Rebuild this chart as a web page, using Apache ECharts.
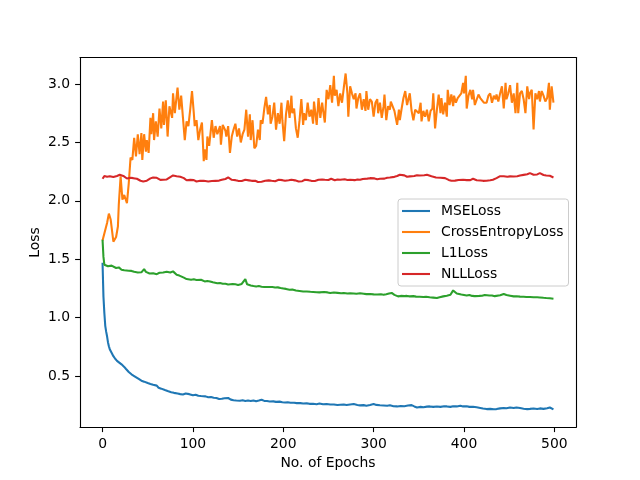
<!DOCTYPE html>
<html><head><meta charset="utf-8">
<script src="https://cdn.jsdelivr.net/npm/echarts@6/dist/echarts.min.js"></script>
<style>html,body{margin:0;padding:0;background:#fff}#c{width:640px;height:480px}</style>
</head><body><div id="c"></div>
<script>
const xTicks = [0, 100, 200, 300, 400, 500];
const yTicks = [0.5, 1.0, 1.5, 2.0, 2.5, 3.0];
const seriesNames = ['MSELoss', 'CrossEntropyLoss', 'L1Loss', 'NLLLoss'];
const seriesColors = ['#1f77b4', '#ff7f0e', '#2ca02c', '#d62728'];

const mseEpochs = [0,1,2,3,4,5,6,7,8,10,12,14,16,18,21,24,26,29,32,35,37,40,43,46,48,50,53,56,58,60,62,65,69,72,76,79,83,86,89,92,94,96,100,103,106,109,111,114,117,120,123,126,129,132,135,137,139,142,145,148,152,155,158,161,164,167,170,173,176,179,182,185,189,192,196,199,202,205,208,212,215,219,222,226,229,233,237,240,244,248,252,256,260,263,267,270,274,278,282,285,289,292,296,300,303,307,311,315,318,322,326,330,334,338,342,345,348,352,355,359,362,366,370,374,378,381,385,388,392,396,399,403,406,410,414,418,421,425,429,433,436,440,444,447,451,455,458,462,466,470,473,477,481,484,488,492,495,497,499];
const mseLoss   = [1.470,1.180,1.040,0.930,0.880,0.840,0.790,0.755,0.730,0.700,0.670,0.648,0.630,0.618,0.600,0.578,0.560,0.535,0.515,0.500,0.492,0.475,0.460,0.452,0.445,0.440,0.432,0.425,0.435,0.418,0.400,0.392,0.380,0.372,0.362,0.356,0.350,0.345,0.342,0.350,0.360,0.345,0.336,0.340,0.331,0.329,0.334,0.326,0.318,0.320,0.314,0.312,0.303,0.305,0.310,0.318,0.312,0.298,0.293,0.291,0.289,0.293,0.286,0.290,0.286,0.291,0.285,0.290,0.297,0.287,0.286,0.282,0.283,0.279,0.281,0.276,0.273,0.275,0.271,0.272,0.268,0.268,0.265,0.266,0.262,0.262,0.259,0.264,0.258,0.260,0.256,0.257,0.252,0.254,0.256,0.252,0.257,0.260,0.252,0.249,0.251,0.246,0.252,0.260,0.253,0.250,0.248,0.246,0.250,0.242,0.240,0.244,0.242,0.247,0.251,0.240,0.231,0.236,0.233,0.238,0.240,0.236,0.239,0.236,0.241,0.240,0.236,0.241,0.240,0.246,0.240,0.242,0.236,0.237,0.232,0.227,0.222,0.217,0.219,0.216,0.217,0.223,0.226,0.224,0.231,0.227,0.231,0.226,0.220,0.217,0.219,0.222,0.218,0.223,0.219,0.224,0.231,0.222,0.215];

const ceEpochs = [0,1,5,7,9,12,15,17,18,20,22,24,27,29,31,33,35,37,39,41,43,44,46,48,49,51,53,54,56,57,59,61,63,65,67,68,70,72,74,77,78,80,83,85,87,89,91,93,95,97,99,101,102,104,106,108,110,112,113,115,116,118,121,123,125,127,130,131,133,136,137,139,141,143,145,147,149,151,153,155,157,159,161,163,164,166,168,170,172,174,175,177,179,181,183,185,186,188,190,192,194,196,198,199,201,203,205,207,209,210,212,214,216,218,220,222,223,225,227,229,231,233,234,237,239,241,243,244,246,248,250,252,254,256,257,259,261,263,265,267,269,271,272,274,276,278,280,281,283,285,287,289,291,292,294,296,298,300,302,304,305,307,309,311,312,314,316,318,319,321,323,326,328,329,331,333,335,337,339,340,342,344,346,348,350,352,353,355,357,359,361,363,365,366,368,370,372,374,375,377,379,381,382,384,386,388,389,391,393,395,397,399,400,402,403,405,407,409,410,412,414,416,418,420,422,423,425,427,429,431,433,435,436,438,440,442,444,446,447,449,451,453,455,457,459,460,462,464,466,468,470,472,473,475,477,479,481,483,484,486,488,490,492,494,495,497,499];
const ceLoss   = [1.66,1.67,1.81,1.89,1.84,1.65,1.69,1.78,1.97,2.21,2.01,2.05,1.98,2.15,2.37,2.35,2.54,2.38,2.57,2.40,2.58,2.35,2.57,2.42,2.52,2.41,2.71,2.57,2.75,2.52,2.68,2.55,2.79,2.62,2.85,2.65,2.86,2.55,2.81,2.71,2.92,2.75,2.97,2.78,2.90,2.71,2.52,2.68,2.64,2.78,2.94,2.75,2.64,2.69,2.52,2.61,2.67,2.34,2.44,2.35,2.55,2.47,2.69,2.54,2.64,2.57,2.64,2.48,2.65,2.60,2.55,2.64,2.41,2.55,2.61,2.66,2.55,2.62,2.50,2.57,2.61,2.78,2.55,2.74,2.52,2.69,2.45,2.47,2.61,2.52,2.69,2.66,2.79,2.89,2.74,2.82,2.66,2.72,2.84,2.61,2.75,2.66,2.84,2.69,2.51,2.74,2.86,2.71,2.90,2.75,2.79,2.62,2.54,2.69,2.87,2.65,2.75,2.69,2.84,2.72,2.78,2.66,2.85,2.65,2.88,2.71,2.84,2.78,2.67,2.95,2.87,2.99,2.84,3.07,2.90,2.95,2.81,2.92,2.84,2.97,3.09,2.92,2.72,2.98,2.92,2.87,2.92,2.79,2.88,2.92,2.78,2.87,2.77,2.94,2.78,2.87,2.85,2.72,2.84,2.87,2.75,2.84,2.71,2.81,2.91,2.69,2.81,2.78,2.85,2.84,2.77,2.65,2.78,2.69,2.79,2.88,2.94,2.82,2.81,2.92,2.77,2.69,2.78,2.79,2.75,2.84,2.68,2.77,2.72,2.78,2.68,2.77,2.79,2.92,2.62,2.78,2.91,2.75,2.88,2.74,2.84,2.72,2.95,2.82,2.91,2.81,2.90,2.84,2.88,2.87,2.92,3.01,2.92,3.07,2.79,2.90,2.95,2.87,2.95,2.82,2.81,2.91,2.88,2.87,2.84,2.85,2.84,2.90,2.92,2.84,2.90,2.87,2.91,2.85,2.92,2.98,2.79,3.01,2.87,2.92,2.99,2.84,2.92,2.75,3.01,2.75,2.92,2.94,2.87,2.75,2.98,2.87,2.92,2.95,2.61,2.92,2.87,2.94,2.85,2.94,2.90,2.85,2.88,3.01,2.78,2.98,2.84];

const l1Epochs = [0,1,2,4,6,8,10,12,15,18,21,24,26,29,32,35,37,39,41,43,46,48,50,52,54,56,58,60,61,63,65,67,69,71,72,75,78,80,82,85,87,90,93,95,98,101,104,106,109,113,116,119,122,124,127,130,133,136,139,141,144,147,150,152,154,156,158,160,161,164,167,170,173,176,179,181,184,188,191,194,197,200,203,207,210,214,218,222,226,230,233,237,240,242,245,247,249,252,256,260,264,267,271,274,278,281,285,289,292,296,300,304,308,311,314,317,320,323,327,330,334,337,340,344,347,351,355,358,362,366,370,373,377,381,385,388,390,392,394,397,399,403,406,409,412,414,417,420,423,425,428,431,434,436,440,444,447,451,455,458,462,466,469,473,477,481,484,488,491,495,499];
const l1Loss   = [1.667,1.520,1.453,1.445,1.440,1.447,1.445,1.436,1.425,1.430,1.410,1.405,1.396,1.402,1.400,1.392,1.396,1.386,1.382,1.388,1.415,1.392,1.382,1.378,1.367,1.380,1.390,1.372,1.367,1.384,1.396,1.386,1.382,1.392,1.390,1.386,1.396,1.381,1.367,1.360,1.353,1.342,1.330,1.334,1.325,1.328,1.322,1.320,1.324,1.310,1.314,1.310,1.302,1.300,1.295,1.296,1.290,1.290,1.284,1.282,1.288,1.285,1.280,1.282,1.288,1.296,1.330,1.285,1.276,1.275,1.270,1.267,1.270,1.265,1.262,1.259,1.262,1.262,1.258,1.259,1.254,1.250,1.246,1.239,1.240,1.232,1.228,1.224,1.224,1.221,1.220,1.218,1.216,1.222,1.219,1.226,1.216,1.211,1.215,1.212,1.209,1.211,1.206,1.208,1.207,1.205,1.209,1.205,1.201,1.203,1.199,1.198,1.200,1.196,1.200,1.206,1.211,1.195,1.182,1.186,1.184,1.186,1.182,1.184,1.180,1.178,1.176,1.178,1.174,1.171,1.168,1.175,1.182,1.188,1.196,1.233,1.218,1.206,1.203,1.198,1.196,1.190,1.194,1.186,1.184,1.182,1.186,1.188,1.194,1.196,1.190,1.190,1.184,1.182,1.192,1.203,1.194,1.188,1.182,1.183,1.180,1.178,1.176,1.177,1.175,1.174,1.173,1.170,1.168,1.166,1.162];

const nllEpochs = [0,2,3,5,6,8,10,12,14,16,17,19,21,23,25,27,29,31,32,34,36,38,40,42,44,45,47,49,51,53,54,56,58,60,62,64,65,67,69,71,73,75,76,78,80,82,84,86,88,90,92,93,95,97,99,101,102,104,106,108,110,112,114,117,119,121,123,125,127,129,132,134,136,139,141,143,145,147,150,152,154,156,158,160,162,165,167,169,172,174,176,178,180,182,184,187,189,191,193,195,197,199,202,204,206,209,211,213,215,217,219,221,224,226,228,231,233,235,237,239,241,243,246,248,250,253,255,257,260,263,265,268,271,274,276,279,282,285,288,290,293,296,298,301,304,307,309,312,315,318,320,323,326,329,331,334,337,340,342,345,348,351,353,356,359,361,364,366,369,371,374,376,379,381,383,386,388,390,392,394,396,399,401,403,405,407,410,412,414,416,418,421,423,425,427,429,432,434,436,438,440,442,444,446,448,451,453,455,457,459,462,464,466,468,470,473,475,477,479,481,484,486,488,491,493,495,497,499];
const nllLoss   = [2.189,2.212,2.223,2.206,2.200,2.211,2.217,2.204,2.200,2.213,2.207,2.223,2.206,2.213,2.200,2.191,2.180,2.197,2.186,2.194,2.178,2.189,2.180,2.172,2.184,2.166,2.179,2.172,2.180,2.192,2.186,2.200,2.191,2.197,2.189,2.179,2.187,2.180,2.190,2.183,2.194,2.203,2.197,2.217,2.204,2.211,2.200,2.206,2.190,2.194,2.181,2.176,2.171,2.179,2.168,2.177,2.171,2.165,2.176,2.172,2.180,2.171,2.175,2.166,2.176,2.169,2.178,2.171,2.179,2.173,2.180,2.174,2.187,2.200,2.186,2.180,2.170,2.177,2.171,2.179,2.169,2.176,2.180,2.168,2.175,2.171,2.163,2.172,2.161,2.168,2.163,2.174,2.171,2.164,2.175,2.171,2.178,2.168,2.176,2.180,2.171,2.177,2.171,2.165,2.176,2.180,2.171,2.175,2.163,2.166,2.174,2.168,2.180,2.172,2.177,2.171,2.178,2.170,2.176,2.180,2.173,2.182,2.180,2.186,2.178,2.189,2.180,2.176,2.183,2.180,2.175,2.184,2.178,2.180,2.186,2.177,2.183,2.180,2.187,2.181,2.190,2.194,2.186,2.192,2.185,2.189,2.196,2.190,2.198,2.200,2.193,2.205,2.212,2.223,2.212,2.218,2.206,2.209,2.218,2.212,2.219,2.217,2.210,2.219,2.223,2.214,2.210,2.204,2.200,2.206,2.197,2.201,2.194,2.186,2.179,2.172,2.166,2.173,2.169,2.178,2.172,2.180,2.186,2.177,2.184,2.177,2.189,2.181,2.176,2.182,2.174,2.171,2.177,2.172,2.181,2.176,2.180,2.188,2.194,2.207,2.211,2.217,2.210,2.214,2.206,2.209,2.214,2.208,2.216,2.211,2.217,2.212,2.222,2.218,2.227,2.237,2.229,2.223,2.230,2.226,2.237,2.229,2.221,2.217,2.210,2.214,2.205,2.200];

const epochSets = [mseEpochs, ceEpochs, l1Epochs, nllEpochs];
const lossSets = [mseLoss, ceLoss, l1Loss, nllLoss];

const FONT = 'DejaVu Sans';
const FS = 13.9;
const X_MIN = -24.95, X_MAX = 523.95, Y_MIN = 0.062, Y_MAX = 3.226;
const frameLine = {show: true, onZero: false, lineStyle: {color: '#000', width: 1.1}};

const chart = echarts.init(document.getElementById('c'), null, {renderer: 'canvas'});
chart.setOption({
  animation: false,
  backgroundColor: '#fff',
  grid: {left: 80, right: 64, top: 57.6, bottom: 52.8, containLabel: false},
  xAxis: [{
    type: 'value', min: X_MIN, max: X_MAX, position: 'bottom',
    axisLine: frameLine,
    axisTick: {show: true, customValues: xTicks, length: 4.9, lineStyle: {color: '#000', width: 1.1}},
    axisLabel: {customValues: xTicks, margin: 10, color: '#000', fontFamily: FONT, fontSize: FS, formatter: v => String(v)},
    splitLine: {show: false},
    name: 'No. of Epochs', nameLocation: 'middle', nameGap: 29, nameMoveOverlap: false,
    nameTextStyle: {color: '#000', fontFamily: FONT, fontSize: FS}
  }, {
    type: 'value', min: X_MIN, max: X_MAX, position: 'top',
    axisLine: frameLine, axisTick: {show: false}, axisLabel: {show: false}, splitLine: {show: false}
  }],
  yAxis: [{
    type: 'value', min: Y_MIN, max: Y_MAX, position: 'left',
    axisLine: frameLine,
    axisTick: {show: true, customValues: yTicks, length: 4.9, lineStyle: {color: '#000', width: 1.1}},
    axisLabel: {customValues: yTicks, margin: 10, color: '#000', fontFamily: FONT, fontSize: FS, formatter: v => v.toFixed(1)},
    splitLine: {show: false},
    name: 'Loss', nameLocation: 'middle', nameGap: 38, nameRotate: 90, nameMoveOverlap: false,
    nameTextStyle: {color: '#000', fontFamily: FONT, fontSize: FS}
  }, {
    type: 'value', min: Y_MIN, max: Y_MAX, position: 'right',
    axisLine: frameLine, axisTick: {show: false}, axisLabel: {show: false}, splitLine: {show: false}
  }],
  legend: {
    orient: 'vertical', left: 398, top: 199,
    padding: [5, 5, 5, 4], itemGap: 7, itemWidth: 28, itemHeight: 2.1, icon: 'rect',
    backgroundColor: '#fff', borderColor: '#cccccc', borderWidth: 1, borderRadius: 3,
    textStyle: {color: '#000', fontFamily: FONT, fontSize: FS, padding: [0, 0, 0, 6], lineHeight: 14},
    data: seriesNames
  },
  series: seriesNames.map((name, i) => ({
    name, type: 'line', xAxisIndex: 0, yAxisIndex: 0,
    data: epochSets[i].map((e, j) => [e, lossSets[i][j]]),
    showSymbol: false, symbol: 'none',
    lineStyle: {color: seriesColors[i], width: 2.08},
    itemStyle: {color: seriesColors[i]}
  }))
});
</script>
</body></html>
